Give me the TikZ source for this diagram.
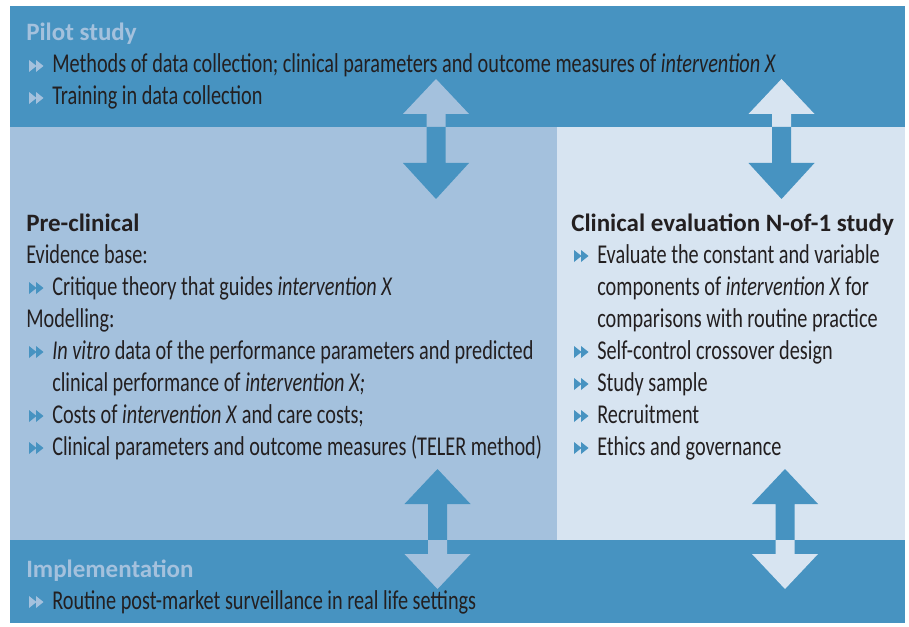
\documentclass[tikz,border=0pt]{standalone}
\usepackage{fontspec}
\setmainfont{Carlito}[FakeStretch=0.745]
\newfontfamily\headfont{Carlito}
\definecolor{bandblue}{RGB}{71,147,193}
\definecolor{preblue}{RGB}{164,193,221}
\definecolor{clinblue}{RGB}{215,228,241}
\definecolor{inkgrey}{RGB}{35,31,32}

\begin{document}
\begin{tikzpicture}[x=0.75pt,y=0.75pt,yscale=-1,xscale=1,
  txt/.style={anchor=base west,inner sep=0pt,font=\fontsize{20.4}{24}\selectfont,text=inkgrey},
  head/.style={txt,font=\fontsize{18.75}{24}\selectfont\headfont\bfseries},
  lighthead/.style={head,text=preblue}]
\useasboundingbox (0,0) rectangle (909,627);

%Shape: Rectangle (pilot band)
\fill [bandblue] (10,6) rectangle (905,127) ;
%Shape: Rectangle (pre-clinical panel)
\fill [preblue] (10,127) rectangle (557,540) ;
%Shape: Rectangle (clinical panel)
\fill [clinblue] (557,127) rectangle (905,540) ;
%Shape: Rectangle (implementation band)
\fill [bandblue] (10,540) rectangle (905,623) ;

%Shape: Double arrow pilot <-> pre-clinical
\fill [preblue] (436,79) -- (469,114) -- (445.5,114) -- (445.5,127) -- (426.5,127) -- (426.5,114) -- (403,114) -- cycle ;
\fill [bandblue] (426.5,127) -- (445.5,127) -- (445.5,163) -- (469,163) -- (436,199) -- (403,163) -- (426.5,163) -- cycle ;
%Shape: Double arrow pilot <-> clinical
\fill [clinblue] (781.5,79) -- (814.5,114) -- (791,114) -- (791,127) -- (772,127) -- (772,114) -- (748.5,114) -- cycle ;
\fill [bandblue] (772,127) -- (791,127) -- (791,163) -- (814.5,163) -- (781.5,199) -- (748.5,163) -- (772,163) -- cycle ;
%Shape: Double arrow pre-clinical <-> implementation
\fill [bandblue] (437.5,469) -- (470.5,504) -- (447,504) -- (447,540) -- (428,540) -- (428,504) -- (404.5,504) -- cycle ;
\fill [preblue] (428,540) -- (447,540) -- (447,554) -- (470.5,554) -- (437.5,589) -- (404.5,554) -- (428,554) -- cycle ;
%Shape: Double arrow clinical <-> implementation
\fill [bandblue] (785,469) -- (818,504) -- (794.5,504) -- (794.5,540) -- (775.5,540) -- (775.5,504) -- (752,504) -- cycle ;
\fill [clinblue] (775.5,540) -- (794.5,540) -- (794.5,554) -- (818,554) -- (785,589) -- (752,554) -- (775.5,554) -- cycle ;

% Text Node
\draw (26,41) node [lighthead] (pilot) {Pilot study};
% Text Node
\draw (52,73) node [txt] (pilotA) {Methods of data collection; clinical parameters and outcome measures of \textit{intervention X}};
% Text Node
\draw (52,105) node [txt] (pilotB) {Training in data collection};

% Text Node
\draw (26,231) node [head] (pre) {Pre-clinical};
% Text Node
\draw (26,263) node [txt] (evid) {Evidence base:};
% Text Node
\draw (52,295) node [txt] (evidA) {Critique theory that guides \textit{intervention X}};
% Text Node
\draw (26,327) node [txt] (model) {Modelling:};
% Text Node
\draw (52,359) node [txt] (modelA) {\textit{In vitro} data of the performance parameters and predicted};
% Text Node
\draw (52,391) node [txt] (modelAb) {clinical performance of \textit{intervention X;}};
% Text Node
\draw (52,423) node [txt] (modelB) {Costs of \textit{intervention X} and care costs;};
% Text Node
\draw (52,455) node [txt] (modelC) {Clinical parameters and outcome measures (TELER method)};

% Text Node
\draw (571,231) node [head] (clin) {Clinical evaluation N-of-1 study};
% Text Node
\draw (597,263) node [txt] (clinA) {Evaluate the constant and variable};
% Text Node
\draw (597,295) node [txt] (clinAb) {components of \textit{intervention X} for};
% Text Node
\draw (597,327) node [txt] (clinAc) {comparisons with routine practice};
% Text Node
\draw (597,359) node [txt] (clinB) {Self-control crossover design};
% Text Node
\draw (597,391) node [txt] (clinC) {Study sample};
% Text Node
\draw (597,423) node [txt] (clinD) {Recruitment};
% Text Node
\draw (597,455) node [txt] (clinE) {Ethics and governance};

% Text Node
\draw (26,577) node [lighthead] (impl) {Implementation};
% Text Node
\draw (52,609) node [txt] (implA) {Routine post-market surveillance in real life settings};

%Bullets (double triangles)
\foreach \n in {pilotA,pilotB,implA}
  \fill [preblue,shift={(\n.base west)}] (-23,-13) -- (-15.5,-7) -- (-23,-1) -- cycle (-16,-13) -- (-8.5,-7) -- (-16,-1) -- cycle ;
\foreach \n in {evidA,modelA,modelB,modelC,clinA,clinB,clinC,clinD,clinE}
  \fill [bandblue,shift={(\n.base west)}] (-23,-13) -- (-15.5,-7) -- (-23,-1) -- cycle (-16,-13) -- (-8.5,-7) -- (-16,-1) -- cycle ;

\end{tikzpicture}
\end{document}
